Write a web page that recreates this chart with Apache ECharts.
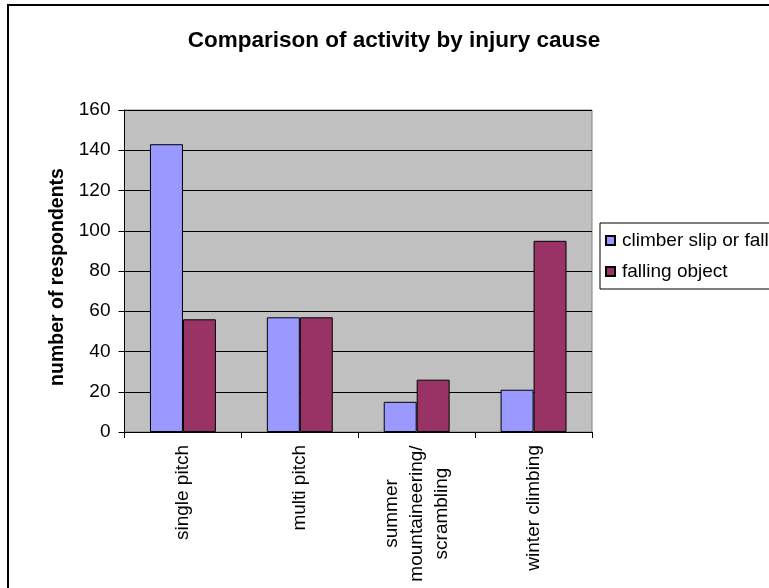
<!DOCTYPE html>
<html>
<head>
<meta charset="utf-8">
<script src="https://cdn.jsdelivr.net/npm/echarts@6/dist/echarts.min.js"></script>
<style>
  html, body { margin: 0; padding: 0; background: #ffffff; }
  #chart { width: 769px; height: 588px; }
</style>
</head>
<body>
<div id="chart"></div>
<script>
// Activities (x categories) and respondent counts per injury cause
const categories = ['single pitch', 'multi pitch', 'summer\nmountaineering/\nscrambling', 'winter climbing'];
const climberSlipOrFall = [143, 57, 15, 21];
const fallingObject = [56, 57, 26, 95];
const yTicks = { min: 0, max: 160, step: 20 };

const FONT = '"Liberation Sans", Arial, sans-serif';
const BASE = 19;

const chart = echarts.init(document.getElementById('chart'));

chart.setOption({
  animation: false,
  backgroundColor: '#ffffff',
  textStyle: { fontFamily: FONT, color: '#000' },
  title: {
    text: 'Comparison of activity by injury cause',
    left: 389,
    textAlign: 'center',
    top: 24,
    textStyle: { fontFamily: FONT, fontSize: 22.5, fontWeight: 'bold', color: '#000' }
  },
  graphic: [{
    type: 'rect',
    shape: { x: 8, y: 5, width: 820, height: 640 },
    style: { fill: null, stroke: '#000', lineWidth: 2 },
    silent: true,
    z: -1
  }],
  legend: {
    orient: 'vertical',
    left: 600,
    top: 223,
    padding: [8, 40, 8, 5],
    itemGap: 12,
    itemWidth: 9,
    itemHeight: 9,
    icon: 'rect',
    borderColor: '#000',
    borderWidth: 1,
    backgroundColor: '#fff',
    textStyle: { fontFamily: FONT, fontSize: BASE, color: '#000', padding: [0, 0, 0, 2] },
    data: ['climber slip or fall', 'falling object']
  },
  grid: {
    left: 124.5,
    right: 177,
    top: 110,
    bottom: 156,
    show: true,
    backgroundColor: '#C0C0C0',
    borderColor: '#808080',
    borderWidth: 1
  },
  xAxis: {
    type: 'category',
    data: categories,
    axisLine: { lineStyle: { color: '#000', width: 1 } },
    axisTick: { show: true, length: 6, lineStyle: { color: '#000' } },
    axisLabel: {
      rotate: 90,
      margin: 13,
      fontFamily: FONT,
      fontSize: BASE,
      color: '#000',
      interval: 0,
      formatter: function (v) {
        if (v.indexOf('\n') < 0) return v;
        return v.split('\n').map(function (s) { return '{c|' + s + '}'; }).join('\n');
      },
      rich: {
        c: { fontFamily: FONT, fontSize: BASE, color: '#000', width: 137, align: 'center', lineHeight: 25 }
      }
    }
  },
  yAxis: {
    type: 'value',
    min: yTicks.min,
    max: yTicks.max,
    interval: yTicks.step,
    name: 'number of respondents',
    nameLocation: 'middle',
    nameGap: 57,
    nameTextStyle: { fontFamily: FONT, fontSize: 19.5, fontWeight: 'bold', color: '#000', padding: [0, 12, 0, 0] },
    axisLine: { show: true, lineStyle: { color: '#000', width: 1 } },
    axisTick: { show: true, length: 6, lineStyle: { color: '#000' } },
    axisLabel: { margin: 14, fontFamily: FONT, fontSize: BASE, color: '#000' },
    splitLine: { show: true, lineStyle: { color: '#000', width: 1 } }
  },
  series: [
    {
      name: 'climber slip or fall',
      type: 'bar',
      data: climberSlipOrFall,
      barGap: '0%',
      barCategoryGap: '43.6%',
      itemStyle: { color: '#9999FF', borderColor: '#000', borderWidth: 1 }
    },
    {
      name: 'falling object',
      type: 'bar',
      data: fallingObject,
      barGap: '0%',
      barCategoryGap: '43.6%',
      itemStyle: { color: '#993366', borderColor: '#000', borderWidth: 1 }
    }
  ]
});
</script>
</body>
</html>
